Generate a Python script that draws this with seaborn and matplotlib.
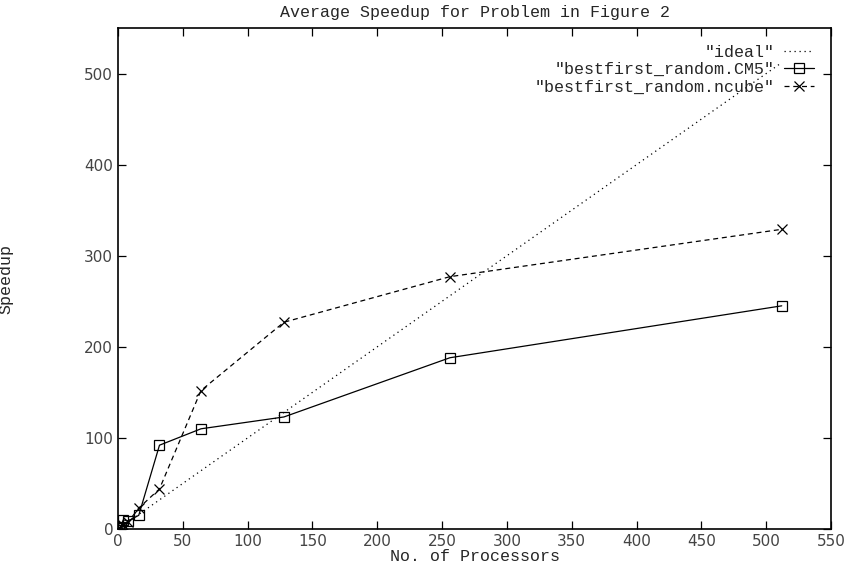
import matplotlib
matplotlib.use("Agg")
import matplotlib.pyplot as plt
import seaborn as sns

# processors and measured speedups
procs = [1, 2, 4, 8, 16, 32, 64, 128, 256, 512]
ideal = [1, 2, 4, 8, 16, 32, 64, 128, 256, 512]
cm5 = [1, 2, 10, 9, 15, 92, 110, 123, 188, 245]
ncube = [1, 2, 4, 8, 23, 44, 152, 227, 277, 329]

x_ticks = [0, 50, 100, 150, 200, 250, 300, 350, 400, 450, 500, 550]
y_ticks = [0, 100, 200, 300, 400, 500]

sns.set_style("ticks")
mono = "Liberation Mono"

fig = plt.figure(figsize=(8.47, 5.73), dpi=100)
ax = fig.add_axes([118 / 847, 44 / 573, 713 / 847, 501 / 573])

sns.lineplot(x=procs, y=ideal, ax=ax, color="black", lw=0.9,
             linestyle=(0, (1, 3)), label='"ideal"')
sns.lineplot(x=procs, y=cm5, ax=ax, color="black", lw=0.9, marker="s",
             markersize=6.5, markerfacecolor="none", markeredgecolor="black",
             markeredgewidth=0.9, label='"bestfirst_random.CM5"')
sns.lineplot(x=procs, y=ncube, ax=ax, color="black", lw=0.9, marker="x",
             markersize=7.5, markeredgecolor="black", markeredgewidth=0.9,
             linestyle=(0, (4, 3)), label='"bestfirst_random.ncube"')

ax.set_xlim(0, 550)
ax.set_ylim(0, 550)
ax.set_xticks(x_ticks)
ax.set_yticks(y_ticks)
ax.tick_params(direction="in", top=True, right=True, length=6, width=0.9,
               labelsize=11, labelcolor="#444444", color="black")
for s in ax.spines.values():
    s.set_linewidth(1.2)
    s.set_color("black")

ax.set_title("Average Speedup for Problem in Figure 2", family=mono,
             fontsize=12, pad=8)
ax.set_xlabel("No. of Processors", family=mono, fontsize=12, labelpad=0)
ax.set_ylabel("Speedup", family=mono, fontsize=12)
ax.yaxis.set_label_coords(-0.146, 0.5)

ax.legend(loc="upper right", markerfirst=False, frameon=False,
          prop={"family": mono, "size": 12}, handlelength=1.8,
          labelspacing=0.15, handletextpad=0.6, borderaxespad=0.6)

fig.savefig("out.png", dpi=100)
